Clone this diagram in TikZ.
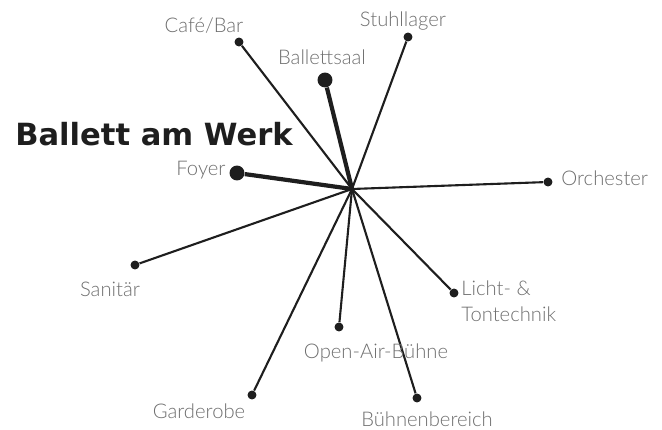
\documentclass[tikz,border=0pt]{standalone}
\usepackage{fontspec}
\setmainfont{Liberation Sans}
\newfontfamily\titlefont{DejaVu Sans}
\newfontfamily\roomfont{Lato-Light.ttf}
\usepackage{tikz}
\usetikzlibrary{positioning}

\definecolor{inkdark}{RGB}{30,30,30}
\definecolor{labelgray}{RGB}{110,110,110}

\tikzset{
	spot/.style={circle, fill=inkdark, inner sep=0pt, minimum size=9pt*0.567},
	bigspot/.style={circle, fill=inkdark, inner sep=0pt, minimum size=15pt*0.567},
	spoke/.style={inkdark, line width=1.2pt},
	bigspoke/.style={inkdark, line width=2.4pt},
	room/.style={text=labelgray, font=\roomfont\fontsize{11.5}{14.8}\selectfont, inner sep=0pt}
}

\begin{document}
\begin{tikzpicture}
		\useasboundingbox (0,0) rectangle (13.24,8.6);
		
		% Title
		\node[font=\titlefont\bfseries\fontsize{17.4}{20}\selectfont, text=inkdark, inner sep=0pt] (title) at (3.08,5.92) {Ballett am Werk};
		
		% hub and end points
		\coordinate (hub) at (7.04,4.82);
		\node[spot] (cafe) at (4.78,7.76) {};
		\node[bigspot] (saal) at (6.50,7.00) {};
		\node[spot] (lager) at (8.16,7.86) {};
		\node[bigspot] (foyer) at (4.74,5.14) {};
		\node[spot] (orch) at (10.96,4.96) {};
		\node[spot] (sani) at (2.70,3.30) {};
		\node[spot] (garde) at (5.04,0.70) {};
		\node[spot] (openair) at (6.78,2.06) {};
		\node[spot] (licht) at (9.08,2.74) {};
		\node[spot] (buehne) at (8.34,0.64) {};
		
		% spokes
		\draw[bigspoke] (hub) -- (saal);
		\draw[bigspoke] (hub) -- (foyer);
		\foreach \p in {cafe,lager,orch,sani,garde,openair,licht,buehne}
		\draw[spoke] (hub) -- (\p);
		
		% labels
		\node[room] (cafelbl) at (4.08,8.08) {Café/Bar};
		\node[room] (saallbl) at (6.44,7.46) {Ballettsaal};
		\node[room] (lagerlbl) at (8.06,8.18) {Stuhllager};
		\node[room] (foyerlbl) at (4.02,5.20) {Foyer};
		\node[room, anchor=west] (orchlbl) at (11.22,5.04) {Orchester};
		\node[room] (sanilbl) at (2.20,2.82) {Sanitär};
		\node[room] (gardelbl) at (3.98,0.38) {Garderobe};
		\node[room] (openairlbl) at (7.52,1.54) {Open-Air-Bühne};
		\node[room, anchor=north west, align=left] (lichtlbl) at (9.22,3.0) {Licht- \&\\Tontechnik};
		\node[room] (buehnelbl) at (8.54,0.22) {Bühnenbereich};
	\end{tikzpicture}
\end{document}
